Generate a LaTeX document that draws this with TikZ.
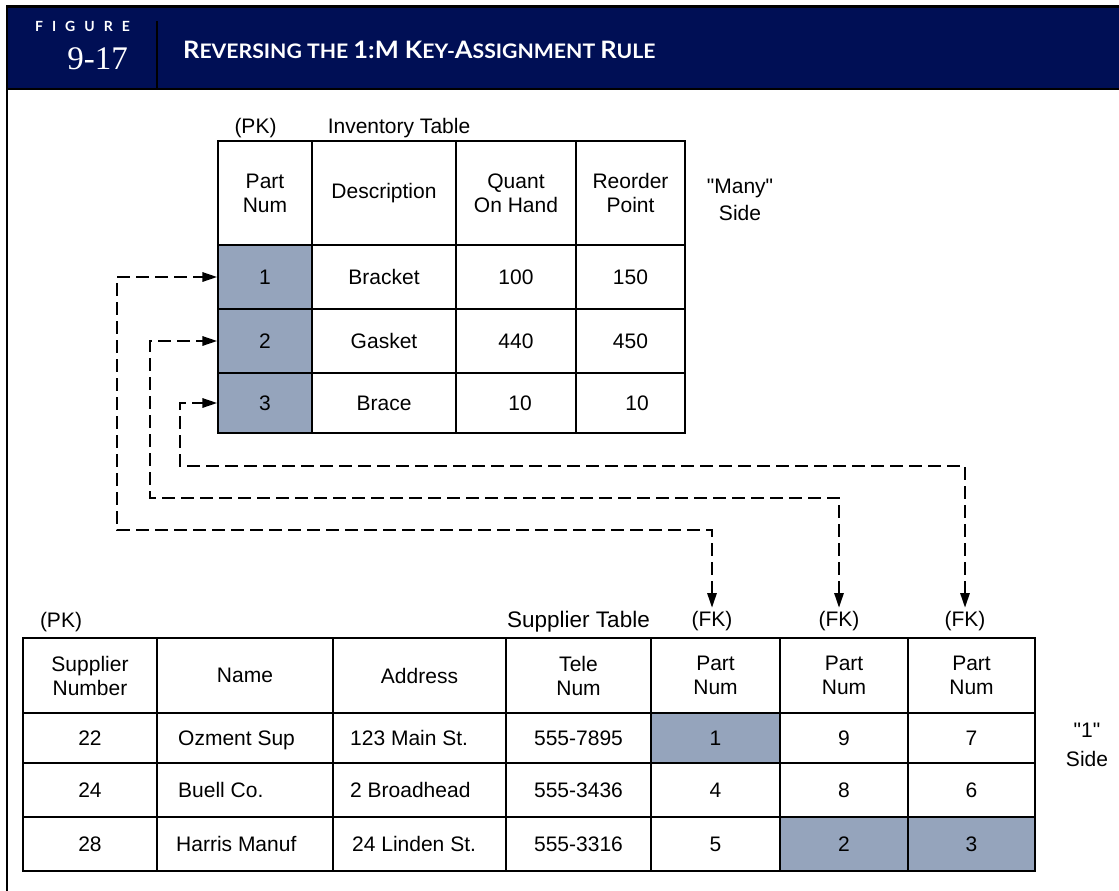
\documentclass[tikz,border=0pt]{standalone}
\usepackage{fontspec}
\setmainfont{Liberation Sans}
\newfontfamily\plainfont{Liberation Sans}
\newfontfamily\titlefont{Lato}
\newfontfamily\numfont{Liberation Serif}
\usetikzlibrary{arrows.meta}
\definecolor{navy}{RGB}{0,15,85}
\definecolor{keyfill}{RGB}{149,164,188}
\newcommand\BigC[1]{{\fontsize{24}{24}\selectfont #1}}
\newcommand\SmC[1]{{\fontsize{20}{20}\selectfont #1}}
\begin{document}
\begin{tikzpicture}[x=1pt,y=-1pt,
  cell/.style={draw, line width=1.1pt, inner sep=0pt, align=center, font=\fontsize{21}{24}\selectfont},
  cw/.style={minimum width=#1pt}, ch/.style={minimum height=#1pt},
  key/.style={fill=keyfill},
  txt/.style={inner sep=0pt, align=center, font=\fontsize{21}{24}\selectfont},
  conn/.style={line width=2.8pt, dash pattern=on 13pt off 6pt,
    {Triangle[length=15pt,width=9pt]}-{Triangle[length=15pt,width=9pt]}}
]
\useasboundingbox (0,0) rectangle (1119,891);
% header band
\fill[navy] (7,6) rectangle (1119,89);
\draw[line width=2.4pt] (1119,6.5) -- (7,6.5) -- (7,891);
\draw[line width=2.4pt] (7,89) -- (1119,89);
\draw[line width=2.6pt] (157,21) -- (157,89);
\node[anchor=base east, inner sep=0pt, text=white, font=\titlefont\bfseries\fontsize{14}{14}\selectfont] (figlbl) at (130,32) {F\kern9pt I\kern9pt G\kern9pt U\kern9pt R\kern9pt E};
\node[anchor=base east, inner sep=0pt, text=white, font=\numfont\fontsize{33}{33}\selectfont] (fignum) at (128,70) {9-17};
\node[anchor=base west, inner sep=0pt, text=white, font=\titlefont\bfseries] (title) at (183,59) {\scalebox{1.06}[1]{\BigC{R}\SmC{EVERSING THE }\BigC{1:M K}\SmC{EY-}\BigC{A}\SmC{SSIGNMENT }\BigC{R}\SmC{ULE}}};

% inventory table
\node[cell, cw=94, ch=104] (ih1) at (265,193) {Part\\Num};
\node[cell, cw=144, ch=104] (ih2) at (384,193) {Description};
\node[cell, cw=120, ch=104] (ih3) at (516,193) {Quant\\On Hand};
\node[cell, cw=109, ch=104] (ih4) at (630.5,193) {Reorder\\Point};
\node[cell, key, cw=94, ch=64] (i1) at (265,277) {1};
\node[cell, cw=144, ch=64] (i1b) at (384,277) {Bracket};
\node[cell, cw=120, ch=64] (i1c) at (516,277) {100};
\node[cell, cw=109, ch=64] (i1d) at (630.5,277) {150};
\node[cell, key, cw=94, ch=64] (i2) at (265,341) {2};
\node[cell, cw=144, ch=64] (i2b) at (384,341) {Gasket};
\node[cell, cw=120, ch=64] (i2c) at (516,341) {440};
\node[cell, cw=109, ch=64] (i2d) at (630.5,341) {450};
\node[cell, key, cw=94, ch=60] (i3) at (265,403) {3};
\node[cell, cw=144, ch=60] (i3b) at (384,403) {Brace};
\node[cell, cw=120, ch=60] (i3c) at (516,403) {\hspace*{8pt}10};
\node[cell, cw=109, ch=60] (i3d) at (630.5,403) {\hspace*{13pt}10};
\node[txt] (ipk) at (255.5,128) {(PK)};
\node[txt] (ititle) at (399,128) {Inventory Table};
\node[txt, font=\plainfont\fontsize{21}{27}\selectfont] (many) at (740,200) {"Many"\\Side};

% supplier table
\node[cell, cw=134, ch=75] (sh1) at (90,675.5) {Supplier\\Number};
\node[cell, cw=176, ch=75] (sh2) at (245,675.5) {Name};
\node[cell, cw=173, ch=75] (sh3) at (419.5,675.5) {Address};
\node[cell, cw=145, ch=75] (sh4) at (578.5,675.5) {Tele\\Num};
\node[cell, cw=129, ch=75] (sh5) at (715.5,675.5) {Part\\Num};
\node[cell, cw=128, ch=75] (sh6) at (844,675.5) {Part\\Num};
\node[cell, cw=127, ch=75] (sh7) at (971.5,675.5) {Part\\Num};

\node[cell, cw=134, ch=50] (s1a) at (90,738) {22};
\node[cell, cw=176, ch=50] (s1b) at (245,738) {};
\node[cell, cw=173, ch=50] (s1c) at (419.5,738) {};
\node[cell, cw=145, ch=50] (s1d) at (578.5,738) {555-7895};
\node[cell, key, cw=129, ch=50] (s1e) at (715.5,738) {1};
\node[cell, cw=128, ch=50] (s1f) at (844,738) {9};
\node[cell, cw=127, ch=50] (s1g) at (971.5,738) {7};

\node[cell, cw=134, ch=54] (s2a) at (90,790) {24};
\node[cell, cw=176, ch=54] (s2b) at (245,790) {};
\node[cell, cw=173, ch=54] (s2c) at (419.5,790) {};
\node[cell, cw=145, ch=54] (s2d) at (578.5,790) {555-3436};
\node[cell, cw=129, ch=54] (s2e) at (715.5,790) {4};
\node[cell, cw=128, ch=54] (s2f) at (844,790) {8};
\node[cell, cw=127, ch=54] (s2g) at (971.5,790) {6};

\node[cell, cw=134, ch=54] (s3a) at (90,844) {28};
\node[cell, cw=176, ch=54] (s3b) at (245,844) {};
\node[cell, cw=173, ch=54] (s3c) at (419.5,844) {};
\node[cell, cw=145, ch=54] (s3d) at (578.5,844) {555-3316};
\node[cell, cw=129, ch=54] (s3e) at (715.5,844) {5};
\node[cell, key, cw=128, ch=54] (s3f) at (844,844) {2};
\node[cell, key, cw=127, ch=54] (s3g) at (971.5,844) {3};

\node[txt, anchor=base west] (n1) at (178,745.5) {Ozment Sup};
\node[txt, anchor=base west] (n2) at (178,797.5) {Buell Co.};
\node[txt, anchor=base west] (n3) at (176,851.5) {Harris Manuf};
\node[txt, anchor=base west] (a1) at (350,745.5) {123 Main St.};
\node[txt, anchor=base west] (a2) at (350,797.5) {2 Broadhead};
\node[txt, anchor=base west] (a3) at (352,851.5) {24 Linden St.};

\node[txt] (spk) at (61,622) {(PK)};
\node[txt, font=\fontsize{22.5}{24}\selectfont] (stitle) at (578.5,622) {Supplier Table};
\node[txt, inner sep=3pt] (fk1) at (712,621) {(FK)};
\node[txt, inner sep=3pt] (fk2) at (839,621) {(FK)};
\node[txt, inner sep=3pt] (fk3) at (965,621) {(FK)};
\node[txt, font=\plainfont\fontsize{21}{29}\selectfont] (one) at (1087,745) {"1"\\Side};

% connectors
\draw[conn] (fk1.north) |- (117,530) |- (i1.west);
\draw[conn] (fk2.north) |- (150,498) |- (i2.west);
\draw[conn] (fk3.north) |- (180,466) |- (i3.west);
\end{tikzpicture}
\end{document}
